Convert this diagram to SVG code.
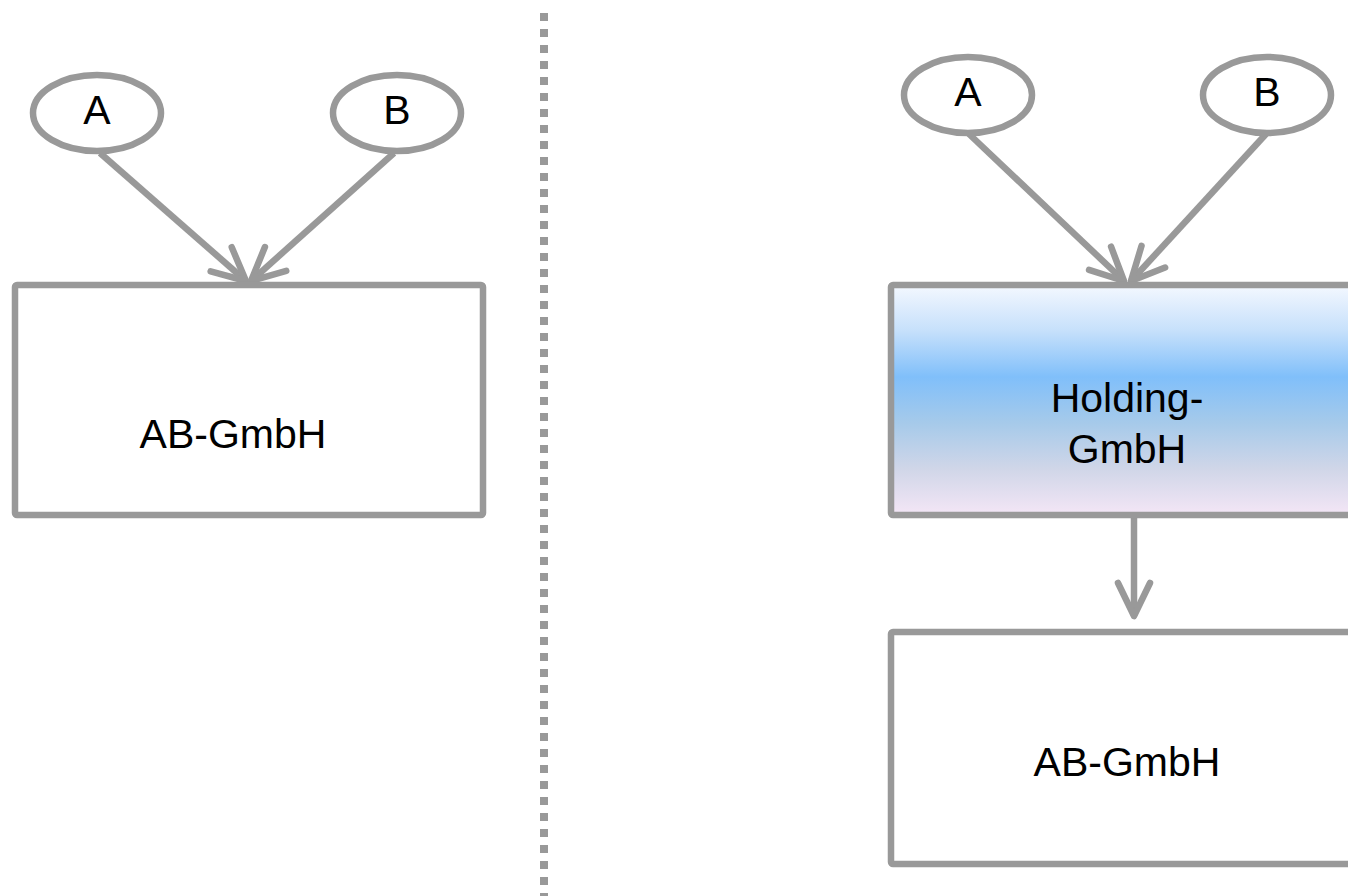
<svg xmlns="http://www.w3.org/2000/svg" width="1348" height="896" viewBox="0 0 1348 896">
  <style>
    .shape { fill: #ffffff; stroke: #999999; stroke-width: 6.5; }
    .conn { fill: none; stroke: #999999; stroke-width: 6.5; }
    .lbl { font-family: "Liberation Sans", Arial, sans-serif; font-size: 41px; fill: #000000; text-anchor: middle; }
  </style>
  <defs>
    <linearGradient id="holdGrad" x1="0" y1="0" x2="0" y2="1">
      <stop offset="0" stop-color="#f4f8ff"/>
      <stop offset="0.2" stop-color="#c6e0fb"/>
      <stop offset="0.4" stop-color="#80bffa"/>
      <stop offset="0.6" stop-color="#a6caea"/>
      <stop offset="0.8" stop-color="#d0d6e8"/>
      <stop offset="1" stop-color="#f4e6f6"/>
    </linearGradient>
    <marker id="arrow" markerUnits="userSpaceOnUse" markerWidth="80" markerHeight="80" viewBox="-40 -40 80 80" refX="0" refY="0" orient="auto">
      <path d="M -33 -16 L 0 0 L -33 16" fill="none" stroke="#999999" stroke-width="6.5" stroke-linecap="round" stroke-linejoin="round"/>
    </marker>
  </defs>

  <line id="divider" x1="544" y1="13" x2="544" y2="896" stroke="#999999" stroke-width="8" stroke-dasharray="8 8"/>

  <g id="connectors">
    <line class="conn" x1="100" y1="153" x2="246" y2="281" marker-end="url(#arrow)"/>
    <line class="conn" x1="394" y1="153" x2="251" y2="281" marker-end="url(#arrow)"/>
    <line class="conn" x1="969" y1="134" x2="1124" y2="281" marker-end="url(#arrow)"/>
    <line class="conn" x1="1266" y1="134" x2="1131" y2="281" marker-end="url(#arrow)"/>
    <line class="conn" x1="1134" y1="518" x2="1134" y2="616" marker-end="url(#arrow)"/>
  </g>

  <g id="left-A">
    <ellipse class="shape" cx="97" cy="113" rx="64" ry="38"/>
    <text class="lbl" x="97" y="124">A</text>
  </g>
  <g id="left-B">
    <ellipse class="shape" cx="397" cy="113" rx="64" ry="38"/>
    <text class="lbl" x="397" y="124">B</text>
  </g>
  <g id="left-AB-GmbH">
    <rect class="shape" x="15" y="285" width="468" height="230" rx="2"/>
    <text class="lbl" x="233" y="448">AB-GmbH</text>
  </g>

  <g id="right-A">
    <ellipse class="shape" cx="968" cy="95" rx="64" ry="38"/>
    <text class="lbl" x="968" y="106">A</text>
  </g>
  <g id="right-B">
    <ellipse class="shape" cx="1267" cy="95" rx="64" ry="38"/>
    <text class="lbl" x="1267" y="106">B</text>
  </g>
  <g id="holding-GmbH">
    <rect class="shape" x="891" y="285" width="468" height="230" rx="2" style="fill:url(#holdGrad)"/>
    <text class="lbl" x="1127" y="412">Holding-</text>
    <text class="lbl" x="1127" y="463">GmbH</text>
  </g>
  <g id="right-AB-GmbH">
    <rect class="shape" x="891" y="632" width="468" height="232" rx="2"/>
    <text class="lbl" x="1127" y="776">AB-GmbH</text>
  </g>
</svg>
